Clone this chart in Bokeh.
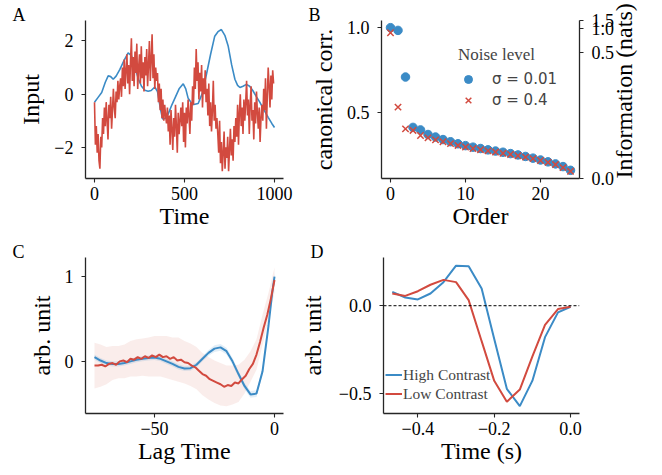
import math
from bokeh.plotting import figure
from bokeh.models import (FixedTicker, LinearAxis, Range1d, Legend, LegendItem,
                          Title, Span)
from bokeh.layouts import column, row
from bokeh.embed import file_html
from bokeh.resources import INLINE

# ---------------- data ----------------
# Panel A
a_blue_t = [0, 20, 40, 60, 76, 90, 104, 120, 141, 165, 187, 205, 225, 245, 261, 280,
            298, 315, 335, 350, 365, 378, 395, 409, 430, 450, 470, 493, 507, 520, 545,
            576, 600, 622, 645, 668, 686, 705, 725, 743, 762, 780, 795, 808, 825, 844,
            862, 881, 900, 919, 942, 965, 985, 1000]
a_blue = [-0.3, -0.12, 0.06, 0.45, 0.69, 0.66, 0.56, 0.68, 0.93, 1.28, 1.55, 1.45, 1.0,
          0.55, 0.3, 0.15, 0.11, 0.14, 0.27, 0.1, -0.5, -0.93, -0.9, -0.75, -0.4, -0.1,
          0.2, 0.39, 0.2, -0.15, -0.4, -0.35, 0.05, 0.75, 1.5, 2.18, 2.35, 2.43, 2.2,
          1.8, 1.1, 0.56, 0.33, 0.25, 0.3, 0.37, 0.3, 0.12, -0.1, -0.31, -0.6, -0.87,
          -1.1, -1.25]
a_red = [-0.3, -1.9, -1.2, -2.2, -1.5, -2.5, -2.8, -1.6, -2.0,
         -0.9, -1.5, -0.5, -1.2, -0.3, -1.0, -1.7, -0.4, -0.9, -0.1, -1.3, -0.6,
         0.2, -0.5, -0.9, 0.1, -0.3, 0.5, -0.2, 0.3,
         0.6, -0.1, 1.0, 0.3, 1.3, 0.2, 0.9, 1.5, 0.4, 1.1, 0.0,
         1.2, 2.1, 0.5, 1.4, 0.3, 1.6, 0.8, 1.9, 0.2, 1.0, 1.5, 0.4, 1.8, 0.6, 1.2,
         0.1, 1.4, 0.7, 1.7, 0.3, 1.1, 2.0, 0.5, 1.3, 2.25, 0.6, 1.5, 0.2, 1.0, 0.5,
         0.8, -0.3, 0.4, -0.6, 0.2, -0.9, -0.2, -1.0, -0.4, -0.8, -1.1,
         -0.5, -1.4, -0.8, -1.9, -0.6, -1.3, -2.1, -0.9, -1.6, -0.4, -1.2, -2.2, -0.7,
         -1.5, -1.0, -0.5,
         -1.2, -0.3, -1.8, -0.7, -2.0, -0.5, -1.1, -0.2, -0.8, -1.5, -0.3, -1.0,
         0.3, -0.4, 1.0, 0.2, 1.7, 0.5, 1.2, -0.2, 0.8, 0.1, 1.1, -0.5, 0.6, 0.0, 0.9, -0.3,
         0.2, -0.8, 0.4, -1.2, -0.3, -1.4, -0.6, 0.5, -1.0, -0.4, -1.3, -0.9,
         -1.5, -2.2, -1.0, -2.6, -1.8, -2.9, -2.2, -1.4, -2.8, -2.0, -2.4, -1.6, -2.9,
         -2.1, -1.3, -2.3, -1.7, -2.5, -1.2, -1.8,
         -0.9, -1.6, -0.4, -1.9, -0.7, 0.0, -1.2, -0.5, -1.5, -0.2, -1.0,
         -0.3, 0.5, -0.8, -0.2, -1.5, -0.4, 0.3, -1.0, -0.6, -1.7, -0.3, -1.1, 0.1, -0.7,
         -1.3, -0.5, -1.8, -0.9, -0.4,
         -1.0, 0.2, -0.6, 0.6, -1.3, -0.1, 1.0, 0.3, -0.5, 0.7, -0.2, 0.9, 0.4]
a_red_t = [5 * i for i in range(len(a_red))]

# Panel B
b_order = list(range(25))
b_low_noise = [1.0, 0.984, 0.708, 0.41, 0.395, 0.368, 0.353, 0.338, 0.325, 0.313, 0.302,
               0.293, 0.285, 0.277, 0.270, 0.263, 0.255, 0.247, 0.238, 0.228, 0.217,
               0.206, 0.194, 0.178, 0.156]
b_high_noise = [0.97, 0.53, 0.401, 0.392, 0.362, 0.348, 0.336, 0.325, 0.314, 0.303,
                0.294, 0.285, 0.278, 0.271, 0.264, 0.257, 0.250, 0.242, 0.234, 0.225,
                0.214, 0.203, 0.190, 0.172, 0.150]
b_info_ticks = [0.108, 0.855, 0.996, 1.04]
b_info_labels = ["0.0", "0.5", "1.0", "1.5"]

# Panel C
c_x_blue = [-75, -72.5, -70, -67.5, -65, -62.5, -60, -57.5, -55, -52.5, -50, -47.5, -45,
            -42.5, -40, -37.5, -35, -32.5, -30, -27.5, -25, -22.5, -20, -17.5, -15,
            -12.5, -10, -7.5, -5, -2.5, -1, 0]
c_blue = [0.05, 0.01, -0.02, -0.03, -0.03, -0.02, 0.0, 0.02, 0.03, 0.04, 0.045, 0.03,
          0.0, -0.03, -0.065, -0.085, -0.08, -0.04, 0.03, 0.1, 0.15, 0.165, 0.12, 0.0,
          -0.15, -0.29, -0.39, -0.38, -0.12, 0.42, 0.80, 1.0]
c_blue_lo = [0.02, -0.02, -0.05, -0.06, -0.06, -0.05, -0.03, -0.01, 0.0, 0.01, 0.015,
             0.0, -0.03, -0.06, -0.095, -0.115, -0.11, -0.07, 0.0, 0.065, 0.11, 0.125,
             0.08, -0.04, -0.19, -0.33, -0.43, -0.42, -0.16, 0.38, 0.76, 0.96]
c_blue_hi = [0.08, 0.04, 0.01, 0.0, 0.0, 0.01, 0.03, 0.05, 0.06, 0.07, 0.075, 0.06,
             0.03, 0.0, -0.035, -0.055, -0.05, -0.01, 0.06, 0.135, 0.19, 0.205, 0.16,
             0.04, -0.11, -0.25, -0.35, -0.34, -0.08, 0.46, 0.84, 1.04]
c_x_red = [-75 + 1.5 * i for i in range(51)]
c_red = [-0.05, -0.05, -0.04, -0.06, -0.03, -0.02, -0.04, 0.0, 0.01, -0.01, 0.03, 0.02,
         0.05, 0.03, 0.06, 0.04, 0.07, 0.05, 0.08, 0.05, 0.06, 0.03, 0.05, 0.01, 0.02,
         -0.01, -0.02, -0.05, -0.07, -0.11, -0.15, -0.17, -0.21, -0.23, -0.25, -0.27,
         -0.30, -0.28, -0.29, -0.25, -0.26, -0.21, -0.17, -0.09, -0.03, 0.08, 0.23,
         0.40, 0.55, 0.74, 0.96]
c_x_band = [-75 + 2.5 * i for i in range(31)]
c_red_lo = [-0.32, -0.30, -0.27, -0.22, -0.20, -0.20, -0.18, -0.18, -0.17, -0.18, -0.18,
            -0.18, -0.20, -0.22, -0.24, -0.26, -0.29, -0.33, -0.40, -0.45, -0.49, -0.52,
            -0.53, -0.51, -0.48, -0.38, -0.24, -0.10, 0.19, 0.49, 0.81]
c_red_hi = [0.22, 0.20, 0.17, 0.18, 0.18, 0.20, 0.24, 0.26, 0.27, 0.28, 0.30, 0.30,
            0.30, 0.28, 0.28, 0.24, 0.21, 0.17, 0.10, 0.05, 0.01, -0.02, -0.05, -0.05,
            -0.04, 0.02, 0.12, 0.26, 0.55, 0.81, 1.11]

# Panel D
d_time = [-0.467, -0.433, -0.4, -0.367, -0.333, -0.3, -0.267, -0.233, -0.2, -0.167,
          -0.133, -0.1, -0.067, -0.033, 0.0]
d_high = [0.079, 0.047, 0.036, 0.07, 0.135, 0.229, 0.226, 0.098, -0.19, -0.476, -0.575,
          -0.429, -0.18, -0.038, -0.006]
d_low = [0.07, 0.056, 0.083, 0.12, 0.148, 0.135, 0.032, -0.203, -0.43, -0.55, -0.48,
         -0.29, -0.11, -0.019, -0.006]

# ---------------- style ----------------
BLUE = "#3b8bc6"
RED = "#d24a3f"
SERIF = "Liberation Serif"
AX = "#262626"


def style_axis(ax, vertical, label_standoff=7):
    ax.axis_line_color = AX
    ax.axis_line_width = 1.3
    ax.major_tick_line_color = AX
    ax.major_tick_line_width = 1.1
    ax.major_tick_out = 4
    ax.major_tick_in = 0
    ax.minor_tick_line_color = None
    ax.major_label_text_font = SERIF
    ax.major_label_text_font_size = "18px"
    ax.major_label_text_color = "black"
    ax.axis_label_text_font = SERIF
    ax.axis_label_text_font_size = "24px"
    ax.axis_label_text_font_style = "normal"
    ax.axis_label_text_color = "black"
    if vertical:
        ax.major_label_standoff = 8
        ax.axis_label_standoff = label_standoff
    else:
        ax.major_label_standoff = 4
        ax.axis_label_standoff = 0


def make_fig(w, h, left, right, top, bottom, xr, yr, letter, letter_offset,
             ylabel_standoff=7):
    p = figure(width=w, height=h, x_range=Range1d(*xr), y_range=Range1d(*yr),
               output_backend="svg", toolbar_location=None,
               min_border_left=left, min_border_right=right,
               min_border_top=top, min_border_bottom=bottom)
    p.outline_line_color = None
    p.xgrid.visible = False
    p.ygrid.visible = False
    p.background_fill_color = "white"
    p.border_fill_color = "white"
    for ax in p.xaxis:
        style_axis(ax, False)
    for ax in p.yaxis:
        style_axis(ax, True, ylabel_standoff)
    p.add_layout(Title(text=letter, align="left", offset=letter_offset, standoff=-8,
                       text_font=SERIF, text_font_size="18px",
                       text_font_style="normal", text_color="black",
                       vertical_align="bottom"), "above")
    return p


LW, RW = 296, 366

# Panel A
pA = make_fig(LW, 243, 85, 13, 20, 65, (-50, 1050), (-3.17, 2.77), "A", -73)
pA.line(a_blue_t, a_blue, line_color=BLUE, line_width=1.6)
pA.line(a_red_t, a_red, line_color=RED, line_width=1.6)
pA.xaxis.ticker = FixedTicker(ticks=[0, 500, 1000])
pA.yaxis.ticker = FixedTicker(ticks=[-2, 0, 2])
pA.yaxis.major_label_overrides = {-2: "\u22122"}
pA.xaxis.axis_label = "Time"
pA.yaxis.axis_label = "Input"

# Panel B
pB = make_fig(RW, 243, 85, 83, 20, 65, (-1.2, 25.2), (0.1075, 1.0425), "B", -73)
rb1 = pB.scatter(b_order, b_low_noise, marker="circle", size=8.5, fill_color=BLUE,
                 line_color=BLUE)
rb2 = pB.scatter(b_order, b_high_noise, marker="x", size=9, line_color=RED,
                 line_width=1.5)
pB.xaxis.ticker = FixedTicker(ticks=[0, 10, 20])
pB.yaxis.ticker = FixedTicker(ticks=[0.5, 1.0])
pB.yaxis.major_label_overrides = {0.5: "0.5", 1.0: "1.0"}
pB.xaxis.axis_label = "Order"
pB.yaxis.axis_label = "canonical corr."
rax = LinearAxis(ticker=FixedTicker(ticks=b_info_ticks),
                 major_label_overrides=dict(zip(b_info_ticks, b_info_labels)),
                 axis_label="Information (nats)")
style_axis(rax, True, 7)
rax.axis_label_orientation = math.pi / 2
try:
    rax.axis_label_align = "start"
except Exception:
    pass
pB.add_layout(rax, "right")
legB = Legend(items=[LegendItem(label="\u03c3 = 0.01", renderers=[rb1]),
                     LegendItem(label="\u03c3 = 0.4", renderers=[rb2])],
              title="Noise level", location=(77, 68), padding=0, spacing=1,
              margin=0, border_line_color=None, background_fill_alpha=0,
              label_text_font="DejaVu Sans", label_text_font_size="15px",
              title_text_font=SERIF, title_text_font_size="17px",
              title_text_font_style="normal", title_standoff=4,
              glyph_width=20, glyph_height=20, label_height=20, label_standoff=14)
pB.add_layout(legB, "center")

# Panel C
pC = make_fig(LW, 232, 85, 13, 12, 62, (-78.75, 3.75), (-0.615, 1.225), "C", -73)
pC.varea(x=c_x_band, y1=c_red_lo, y2=c_red_hi, fill_color=RED, fill_alpha=0.1)
pC.varea(x=c_x_blue, y1=c_blue_lo, y2=c_blue_hi, fill_color=BLUE, fill_alpha=0.15)
pC.line(c_x_blue, c_blue, line_color=BLUE, line_width=2)
pC.line(c_x_red, c_red, line_color=RED, line_width=2)
pC.xaxis.ticker = FixedTicker(ticks=[-50, 0])
pC.xaxis.major_label_overrides = {-50: "\u221250"}
pC.yaxis.ticker = FixedTicker(ticks=[0, 1])
pC.xaxis.axis_label = "Lag Time"
pC.yaxis.axis_label = "arb. unit"

# Panel D
pD = make_fig(RW, 232, 85, 83, 12, 62, (-0.49, 0.0233), (-0.617, 0.276), "D", -73,
              ylabel_standoff=10)
pD.add_layout(Span(location=0, dimension="width", line_color="black", line_width=1,
                   line_dash="3 2"))
rd1 = pD.line(d_time, d_high, line_color=BLUE, line_width=2)
rd2 = pD.line(d_time, d_low, line_color=RED, line_width=2)
pD.xaxis.ticker = FixedTicker(ticks=[-0.4, -0.2, 0.0])
pD.xaxis.major_label_overrides = {-0.4: "\u22120.4", -0.2: "\u22120.2", 0.0: "0.0"}
pD.yaxis.ticker = FixedTicker(ticks=[-0.5, 0.0])
pD.yaxis.major_label_overrides = {-0.5: "\u22120.5", 0.0: "0.0"}
pD.xaxis.axis_label = "Time (s)"
pD.yaxis.axis_label = "arb. unit"
legD = Legend(items=[LegendItem(label="High Contrast", renderers=[rd1]),
                     LegendItem(label="Low Contrast", renderers=[rd2])],
              location=(2, 10), padding=0, spacing=0, margin=0,
              border_line_color=None, background_fill_alpha=0,
              label_text_font=SERIF, label_text_font_size="15.5px",
              glyph_width=17, glyph_height=19, label_height=19, label_standoff=1)
pD.add_layout(legD, "center")

layout = column(row(pA, pB), row(pC, pD))
open("out.html", "w").write(file_html(layout, INLINE))
